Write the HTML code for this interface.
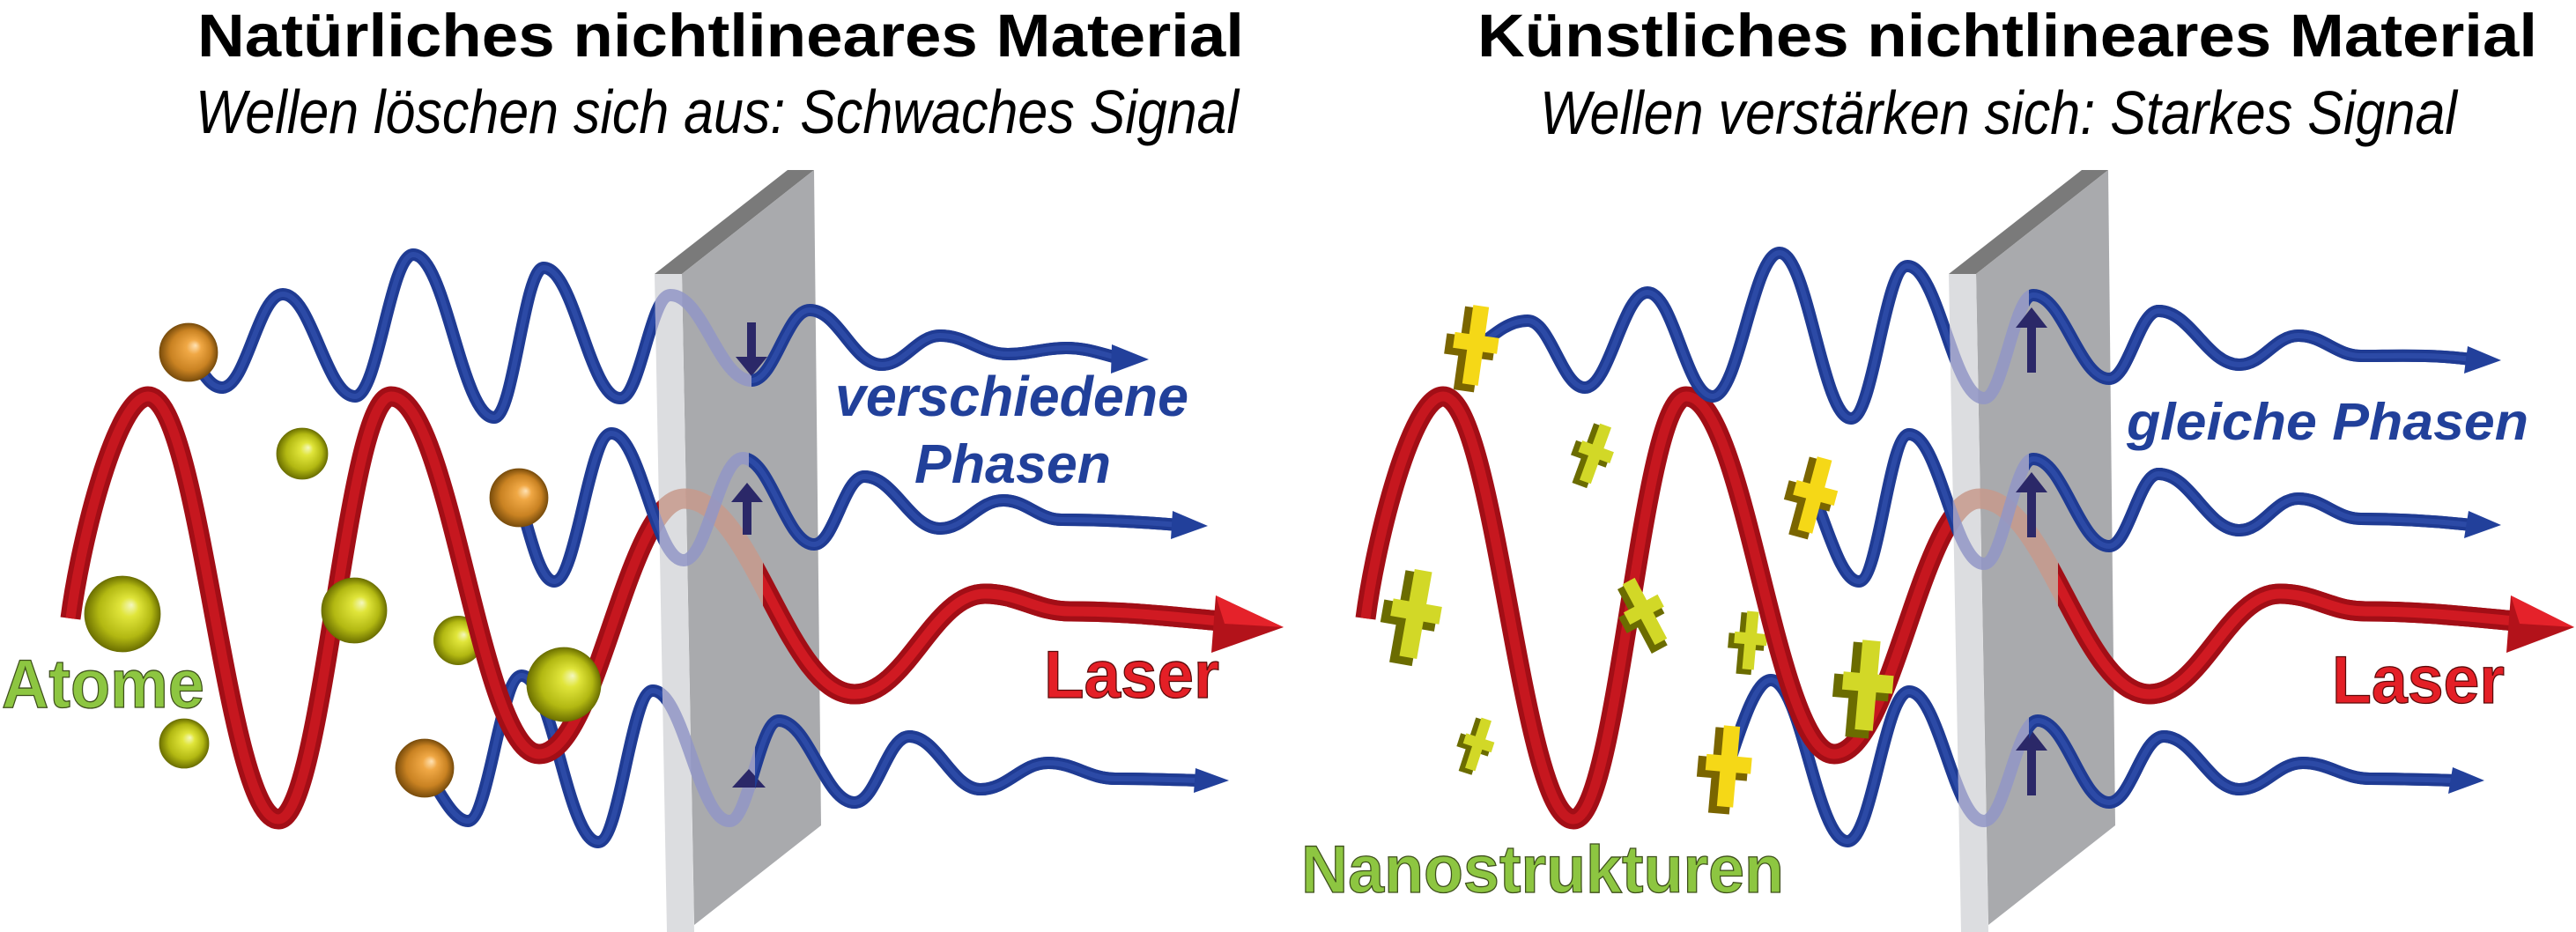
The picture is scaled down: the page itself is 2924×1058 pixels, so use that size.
<!DOCTYPE html>
<html>
<head>
<meta charset="utf-8">
<style>
html,body{margin:0;padding:0;background:#fff;}
svg{display:block;}
</style>
</head>
<body>
<svg width="2924" height="1058" viewBox="0 0 2924 1058" xmlns="http://www.w3.org/2000/svg" font-family="'Liberation Sans', Arial, sans-serif">
<defs>
  <radialGradient id="gy" cx="0.5" cy="0.5" r="0.5" fx="0.62" fy="0.38">
    <stop offset="0" stop-color="#f4f7c0"/>
    <stop offset="0.25" stop-color="#e0e53a"/>
    <stop offset="0.7" stop-color="#b2b812"/>
    <stop offset="1" stop-color="#6c7000"/>
  </radialGradient>
  <radialGradient id="go" cx="0.5" cy="0.5" r="0.5" fx="0.62" fy="0.38">
    <stop offset="0" stop-color="#ffe2b4"/>
    <stop offset="0.25" stop-color="#f0a845"/>
    <stop offset="0.7" stop-color="#c98222"/>
    <stop offset="1" stop-color="#7a4d0c"/>
  </radialGradient>

  <path id="LR" d="M 80 702 C 92 610 133 450 168 450 C 227 450 257 930 316 930 C 367 930 393 450 444 450 C 511 450 545 856 612 856 C 678 856 711 566 777 566 C 854 566 893 788 970 788 C 1029 788 1059 674 1118 674 C 1157 674 1176 694 1215 694 C 1280 694 1330 700 1385 705"/>
  <path id="LT" d="M 214 400 C 228 418 237 440 252 440 C 280 440 293 334 321 334 C 354 334 370 450 403 450 C 429 450 443 289 469 289 C 506 289 524 474 561 474 C 583 474 595 304 617 304 C 652 304 669 452 704 452 C 727 452 738 335 761 335 C 798 335 816 432 853 432 C 879 432 893 352 919 352 C 952 352 968 414 1001 414 C 1027 414 1041 381 1067 381 C 1098 381 1113 402 1144 402 C 1170 402 1185 395 1210 395 C 1235 395 1250 402 1272 407"/>
  <path id="LM" d="M 589 565 C 600 600 612 660 629 660 C 655 660 668 492 694 492 C 727 492 743 636 776 636 C 803 636 816 520 843 520 C 875 520 892 618 924 618 C 947 618 958 541 981 541 C 1015 541 1033 600 1067 600 C 1096 600 1110 568 1139 568 C 1165 568 1179 590 1205 590 C 1250 590 1290 592 1338 596"/>
  <path id="LB" d="M 482 872 C 497 895 514 932 531 932 C 555 932 568 767 592 767 C 627 767 644 956 679 956 C 704 956 716 784 741 784 C 776 784 793 932 828 932 C 850 932 862 818 884 818 C 918 818 936 911 970 911 C 995 911 1007 836 1032 836 C 1064 836 1081 896 1113 896 C 1144 896 1159 866 1190 866 C 1220 866 1236 884 1266 884 C 1300 884 1330 885 1362 886"/>

  <path id="RR" d="M 1550 702 C 1562 610 1603 450 1638 450 C 1697 450 1727 930 1786 930 C 1837 930 1863 450 1914 450 C 1981 450 2015 856 2082 856 C 2148 856 2181 566 2247 566 C 2324 566 2363 788 2440 788 C 2499 788 2529 674 2588 674 C 2627 674 2646 694 2685 694 C 2750 694 2800 700 2855 705"/>
  <path id="RT" d="M 1675 396 C 1695 380 1712 364 1734 364 C 1760 364 1773 440 1799 440 C 1827 440 1842 332 1870 332 C 1900 332 1914 450 1944 450 C 1974 450 1990 287 2020 287 C 2052 287 2069 475 2101 475 C 2127 475 2139 302 2165 302 C 2200 302 2217 452 2252 452 C 2274 452 2286 335 2308 335 C 2342 335 2360 430 2394 430 C 2416 430 2428 353 2450 353 C 2487 353 2505 414 2542 414 C 2569 414 2582 381 2609 381 C 2637 381 2652 404 2680 404 C 2720 404 2760 402 2805 408"/>
  <path id="RM" d="M 2060 566 C 2075 600 2090 660 2110 660 C 2133 660 2144 493 2167 493 C 2201 493 2218 640 2252 640 C 2274 640 2286 521 2308 521 C 2342 521 2360 620 2394 620 C 2416 620 2428 538 2450 538 C 2487 538 2505 602 2542 602 C 2569 602 2582 566 2609 566 C 2637 566 2652 589 2680 589 C 2720 589 2760 591 2805 596"/>
  <path id="RB" d="M 1962 868 C 1975 830 1992 772 2010 772 C 2045 772 2062 955 2097 955 C 2125 955 2139 785 2167 785 C 2201 785 2218 932 2252 932 C 2276 932 2289 818 2313 818 C 2346 818 2362 911 2394 911 C 2419 911 2431 836 2456 836 C 2490 836 2508 896 2542 896 C 2571 896 2585 866 2614 866 C 2644 866 2660 884 2690 884 C 2725 884 2755 885 2787 886"/>

  <path id="px" d="M-10 -50 H10 V-13 H28 V7 H10 V50 H-10 V7 H-28 V-13 H-10 Z"/>

  <clipPath id="cpL"><polygon points="743,311 774,311 924,193 932,937 788,1050 788,1058 757,1058"/></clipPath>
  <clipPath id="cpR"><polygon points="2212,311 2243,311 2393,193 2401,937 2257,1050 2257,1058 2226,1058"/></clipPath>
  <clipPath id="cL1"><rect x="853" y="0" width="600" height="1058"/></clipPath>
  <clipPath id="cL2"><rect x="850" y="0" width="600" height="1058"/></clipPath>
  <clipPath id="cL3"><rect x="857" y="0" width="600" height="1058"/></clipPath>
  <clipPath id="cLr"><rect x="866" y="0" width="600" height="1058"/></clipPath>
  <clipPath id="cR1"><rect x="2303" y="0" width="621" height="1058"/></clipPath>
  <clipPath id="cRr"><rect x="2336" y="0" width="588" height="1058"/></clipPath>
</defs>

<rect x="0" y="0" width="2924" height="1058" fill="#ffffff"/>

<!-- Titles -->
<text x="224" y="64" font-size="69" font-weight="bold" fill="#000" textLength="1188" lengthAdjust="spacingAndGlyphs">Natürliches nichtlineares Material</text>
<text x="222" y="151" font-size="70" font-style="italic" fill="#000" textLength="1184" lengthAdjust="spacingAndGlyphs">Wellen löschen sich aus: Schwaches Signal</text>
<text x="1677" y="64" font-size="69" font-weight="bold" fill="#000" textLength="1203" lengthAdjust="spacingAndGlyphs">Künstliches nichtlineares Material</text>
<text x="1748" y="152" font-size="70" font-style="italic" fill="#000" textLength="1041" lengthAdjust="spacingAndGlyphs">Wellen verstärken sich: Starkes Signal</text>

<!-- ================= LEFT ================= -->
<g fill="none" stroke-linecap="butt" stroke-linejoin="round">
  <use href="#LB" stroke="#1f3b93" stroke-width="14"/>
  <use href="#LB" stroke="#2c4aa6" stroke-width="6"/>
</g>
<circle cx="520" cy="727" r="28" fill="url(#gy)"/>
<g fill="none" stroke-linecap="butt" stroke-linejoin="round">
  <use href="#LR" stroke="#a20e16" stroke-width="23"/>
  <use href="#LR" stroke="#c6171f" stroke-width="11"/>
  <use href="#LT" stroke="#1f3b93" stroke-width="14"/>
  <use href="#LT" stroke="#2c4aa6" stroke-width="6"/>
  <use href="#LM" stroke="#1f3b93" stroke-width="14"/>
  <use href="#LM" stroke="#2c4aa6" stroke-width="6"/>
</g>
<!-- balls -->
<g stroke="#6a6d00" stroke-width="0.8">
<circle cx="214" cy="400" r="33" fill="url(#go)" stroke="#7a4d0c"/>
<circle cx="343" cy="515" r="29" fill="url(#gy)"/>
<circle cx="589" cy="565" r="33" fill="url(#go)" stroke="#7a4d0c"/>
<circle cx="139" cy="697" r="43" fill="url(#gy)"/>
<circle cx="402" cy="693" r="37" fill="url(#gy)"/>
<circle cx="640" cy="777" r="42" fill="url(#gy)"/>
<circle cx="209" cy="844" r="28" fill="url(#gy)"/>
<circle cx="482" cy="872" r="33" fill="url(#go)" stroke="#7a4d0c"/>
</g>

<!-- left panel -->
<polygon points="743,311 774,311 924,193 894,193" fill="#7a7a7a"/>
<polygon points="774,311 924,193 932,937 788,1050" fill="#a9aaad"/>
<polygon points="743,311 774,311 788,1058 757,1058" fill="#dcdde0"/>

<!-- faded waves on panel -->
<g clip-path="url(#cpL)" fill="none">
  <use href="#LR" stroke="#c79a8c" stroke-width="23" stroke-opacity="0.85"/>
  <use href="#LT" stroke="#9297c6" stroke-width="14" stroke-opacity="0.85"/>
  <use href="#LM" stroke="#9297c6" stroke-width="14" stroke-opacity="0.85"/>
  <use href="#LB" stroke="#9297c6" stroke-width="14" stroke-opacity="0.85"/>
</g>
<!-- navy arrows left panel -->
<polygon points="848,366 858,366 858,405 871,405 853,427 835,405 848,405" fill="#2b2868"/>
<polygon points="843,607 853,607 853,570 866,570 848,548 830,570 843,570" fill="#2b2868"/>
<polygon points="831,894 850,873 869,894" fill="#2b2868"/>

<!-- solid exit parts -->
<g fill="none" stroke-linejoin="round">
  <g clip-path="url(#cLr)"><use href="#LR" stroke="#a20e16" stroke-width="23"/><use href="#LR" stroke="#d01a22" stroke-width="11"/></g>
  <g clip-path="url(#cL1)"><use href="#LT" stroke="#1f3b93" stroke-width="14"/><use href="#LT" stroke="#2c4aa6" stroke-width="6"/></g>
  <g clip-path="url(#cL2)"><use href="#LM" stroke="#1f3b93" stroke-width="14"/><use href="#LM" stroke="#2c4aa6" stroke-width="6"/></g>
  <g clip-path="url(#cL3)"><use href="#LB" stroke="#1f3b93" stroke-width="14"/><use href="#LB" stroke="#2c4aa6" stroke-width="6"/></g>
</g>
<!-- arrowheads left -->
<polygon points="1380,676 1457,712 1375,741" fill="#b3121a"/>
<polygon points="1380,676 1457,712 1390,708" fill="#e5222a"/>
<polygon points="1262,391 1304,408 1261,424" fill="#22409b"/>
<polygon points="1331,580 1371,597 1329,612" fill="#22409b"/>
<polygon points="1357,872 1395,886 1355,900" fill="#22409b"/>

<!-- left labels -->
<text x="2" y="803" font-size="78" font-weight="bold" fill="#8dc641" stroke="#3e4f1c" stroke-width="1.3" textLength="230" lengthAdjust="spacingAndGlyphs">Atome</text>
<text x="1185" y="792" font-size="76" font-weight="bold" fill="#e41f26" stroke="#5a0a0a" stroke-width="1.3" textLength="199" lengthAdjust="spacingAndGlyphs">Laser</text>
<text x="948" y="472" font-size="64" font-weight="bold" font-style="italic" fill="#21409a" textLength="401" lengthAdjust="spacingAndGlyphs">verschiedene</text>
<text x="1038" y="548" font-size="62" font-weight="bold" font-style="italic" fill="#21409a" textLength="223" lengthAdjust="spacingAndGlyphs">Phasen</text>

<!-- ================= RIGHT ================= -->
<g fill="none" stroke-linejoin="round">
  <use href="#RB" stroke="#1f3b93" stroke-width="14"/>
  <use href="#RB" stroke="#2c4aa6" stroke-width="6"/>
</g>
<!-- cross behind red -->
<g transform="translate(1987,727) rotate(5) scale(0.66)">
  <use href="#px" transform="translate(-7,6)" fill="#6b6c00" stroke="#6b6c00" stroke-width="6"/>
  <use href="#px" fill="#d2d827"/>
</g>
<g fill="none" stroke-linejoin="round">
  <use href="#RR" stroke="#a20e16" stroke-width="23"/>
  <use href="#RR" stroke="#c6171f" stroke-width="11"/>
  <use href="#RT" stroke="#1f3b93" stroke-width="14"/>
  <use href="#RT" stroke="#2c4aa6" stroke-width="6"/>
  <use href="#RM" stroke="#1f3b93" stroke-width="14"/>
  <use href="#RM" stroke="#2c4aa6" stroke-width="6"/>
</g>
<!-- crosses -->
<g transform="translate(1675,392) rotate(8) scale(0.9)">
  <use href="#px" transform="translate(-7,6)" fill="#7a6500" stroke="#7a6500" stroke-width="6"/>
  <use href="#px" fill="#f5d817"/>
</g>
<g transform="translate(1811,515) rotate(20) scale(0.68)">
  <use href="#px" transform="translate(-7,6)" fill="#6b6c00" stroke="#6b6c00" stroke-width="6"/>
  <use href="#px" fill="#d2d827"/>
</g>
<g transform="translate(2060,562) rotate(15) scale(0.86)">
  <use href="#px" transform="translate(-7,6)" fill="#7a6500" stroke="#7a6500" stroke-width="6"/>
  <use href="#px" fill="#f5d817"/>
</g>
<g transform="translate(1607,697) rotate(10) scale(1.0)">
  <use href="#px" transform="translate(-7,6)" fill="#6b6c00" stroke="#6b6c00" stroke-width="6"/>
  <use href="#px" fill="#d2d827"/>
</g>
<g transform="translate(1867,694) rotate(-28) scale(0.78)">
  <use href="#px" transform="translate(-7,6)" fill="#6b6c00" stroke="#6b6c00" stroke-width="6"/>
  <use href="#px" fill="#d2d827"/>
</g>
<g transform="translate(2120,778) rotate(5) scale(1.02)">
  <use href="#px" transform="translate(-7,6)" fill="#6b6c00" stroke="#6b6c00" stroke-width="6"/>
  <use href="#px" fill="#d2d827"/>
</g>
<g transform="translate(1678,845) rotate(18) scale(0.6)">
  <use href="#px" transform="translate(-7,6)" fill="#6b6c00" stroke="#6b6c00" stroke-width="6"/>
  <use href="#px" fill="#d2d827"/>
</g>
<g transform="translate(1962,870) rotate(5) scale(0.92)">
  <use href="#px" transform="translate(-7,6)" fill="#7a6500" stroke="#7a6500" stroke-width="6"/>
  <use href="#px" fill="#f5d817"/>
</g>

<!-- right panel -->
<polygon points="2212,311 2243,311 2393,193 2363,193" fill="#7a7a7a"/>
<polygon points="2243,311 2393,193 2401,937 2257,1050" fill="#a9aaad"/>
<polygon points="2212,311 2243,311 2257,1058 2226,1058" fill="#dcdde0"/>

<g clip-path="url(#cpR)" fill="none">
  <use href="#RR" stroke="#c79a8c" stroke-width="23" stroke-opacity="0.85"/>
  <use href="#RT" stroke="#9297c6" stroke-width="14" stroke-opacity="0.85"/>
  <use href="#RM" stroke="#9297c6" stroke-width="14" stroke-opacity="0.85"/>
  <use href="#RB" stroke="#9297c6" stroke-width="14" stroke-opacity="0.85"/>
</g>
<!-- navy up arrows right panel -->
<polygon points="2301,423 2311,423 2311,372 2324,372 2306,349 2288,372 2301,372" fill="#2b2868"/>
<polygon points="2301,610 2311,610 2311,559 2324,559 2306,536 2288,559 2301,559" fill="#2b2868"/>
<polygon points="2301,903 2311,903 2311,852 2324,852 2306,829 2288,852 2301,852" fill="#2b2868"/>

<g fill="none" stroke-linejoin="round">
  <g clip-path="url(#cRr)"><use href="#RR" stroke="#a20e16" stroke-width="23"/><use href="#RR" stroke="#d01a22" stroke-width="11"/></g>
  <g clip-path="url(#cR1)">
    <use href="#RT" stroke="#1f3b93" stroke-width="14"/><use href="#RT" stroke="#2c4aa6" stroke-width="6"/>
    <use href="#RM" stroke="#1f3b93" stroke-width="14"/><use href="#RM" stroke="#2c4aa6" stroke-width="6"/>
    <use href="#RB" stroke="#1f3b93" stroke-width="14"/><use href="#RB" stroke="#2c4aa6" stroke-width="6"/>
  </g>
</g>
<!-- arrowheads right -->
<polygon points="2850,676 2922,712 2845,741" fill="#b3121a"/>
<polygon points="2850,676 2922,712 2860,708" fill="#e5222a"/>
<polygon points="2801,393 2839,409 2797,424" fill="#22409b"/>
<polygon points="2802,580 2839,596 2797,611" fill="#22409b"/>
<polygon points="2784,871 2820,886 2779,901" fill="#22409b"/>

<!-- right labels -->
<text x="2414" y="499" font-size="59" font-weight="bold" font-style="italic" fill="#21409a" textLength="456" lengthAdjust="spacingAndGlyphs">gleiche Phasen</text>
<text x="2647" y="798" font-size="76" font-weight="bold" fill="#e41f26" stroke="#5a0a0a" stroke-width="1.3" textLength="196" lengthAdjust="spacingAndGlyphs">Laser</text>
<text x="1477" y="1013" font-size="76" font-weight="bold" fill="#8dc641" stroke="#3e4f1c" stroke-width="1.3" textLength="548" lengthAdjust="spacingAndGlyphs">Nanostrukturen</text>
</svg>
</body>
</html>
